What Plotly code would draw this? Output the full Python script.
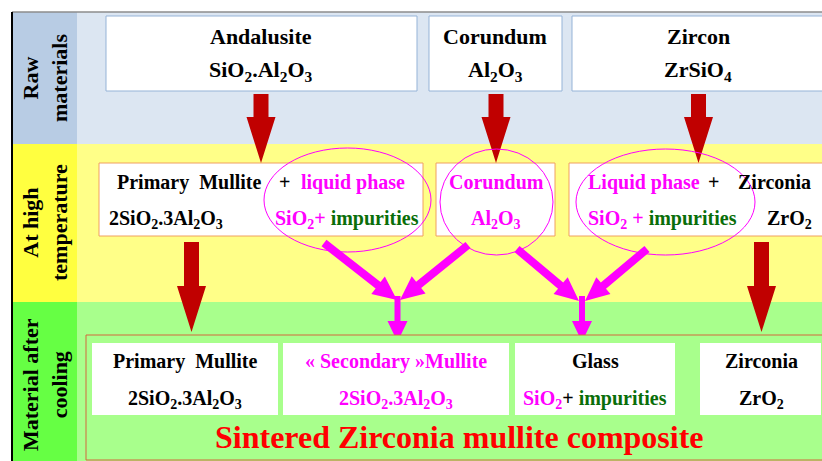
import math
import plotly.graph_objects as go

# ---------------- data (texts) ----------------
stage_labels = ["Raw<br>materials", "At high<br>temperature", "Material after<br>cooling"]
raw_names = ["Andalusite", "Corundum", "Zircon"]
raw_formulas = ["SiO<sub>2</sub>.Al<sub>2</sub>O<sub>3</sub>", "Al<sub>2</sub>O<sub>3</sub>", "ZrSiO<sub>4</sub>"]
cooled_names = ["Primary&nbsp;&nbsp;Mullite", "« Secondary »Mullite", "Glass", "Zirconia"]
cooled_formulas = [
    "2SiO<sub>2</sub>.3Al<sub>2</sub>O<sub>3</sub>",
    "2SiO<sub>2</sub>.3Al<sub>2</sub>O<sub>3</sub>",
    "<span style='color:#ff00ff'>SiO<sub>2</sub></span>+ <span style='color:#0a6e0a'>impurities</span>",
    "ZrO<sub>2</sub>",
]
cooled_colors = ["black", "#ff00ff", "black", "black"]
composite_title = "Sintered Zirconia mullite composite"

# ---------------- style / layout ----------------
W, H = 822, 461
FONT = "Liberation Serif"
MAG = "#ff00ff"
GRN = "#0a6e0a"
RED_ARROW = "#c00000"

shapes = []
annotations = []


def rect(x0, y0, x1, y1, fill, line=None, lw=1):
    shapes.append(dict(type="rect", xref="x", yref="y", x0=x0, y0=y0, x1=x1, y1=y1,
                       fillcolor=fill, line=dict(color=line or fill, width=lw if line else 0)))


def ellipse(x0, y0, x1, y1, color):
    shapes.append(dict(type="circle", xref="x", yref="y", x0=x0, y0=y0, x1=x1, y1=y1,
                       fillcolor="rgba(0,0,0,0)", line=dict(color=color, width=1)))


def arrow(x0, y0, x1, y1, sw, hw, hl, color):
    dx, dy = x1 - x0, y1 - y0
    L = math.hypot(dx, dy)
    ux, uy = dx / L, dy / L
    px, py = -uy, ux
    bx, by = x1 - ux * hl, y1 - uy * hl
    pts = [
        (x0 + px * sw / 2, y0 + py * sw / 2),
        (bx + px * sw / 2, by + py * sw / 2),
        (bx + px * hw / 2, by + py * hw / 2),
        (x1, y1),
        (bx - px * hw / 2, by - py * hw / 2),
        (bx - px * sw / 2, by - py * sw / 2),
        (x0 - px * sw / 2, y0 - py * sw / 2),
    ]
    path = "M " + " L ".join(f"{x:.2f},{y:.2f}" for x, y in pts) + " Z"
    shapes.append(dict(type="path", xref="x", yref="y", path=path,
                       fillcolor=color, line=dict(color=color, width=0)))


def text(x, y, s, size=20, color="black", xanchor="center", angle=0):
    annotations.append(dict(x=x, y=y, xref="x", yref="y", text=f"<b>{s}</b>", showarrow=False,
                            xanchor=xanchor, yanchor="middle", textangle=angle,
                            font=dict(family=FONT, size=size, color=color)))


# bands
rows = [(12, 144, "#b8cce4", "#dce6f2"), (144, 302, "#ffff40", "#ffff88"), (302, 461, "#66ff44", "#a8ff8c")]
for (ya, yb, lab, main) in rows:
    rect(12, ya, 77, yb, lab)
    rect(77, ya, W + 5, yb, main)
shapes.append(dict(type="line", xref="x", yref="y", x0=12, y0=12, x1=W, y1=12,
                   line=dict(color="#8c8c8c", width=1.5)))
shapes.append(dict(type="line", xref="x", yref="y", x0=12, y0=12, x1=12, y1=H,
                   line=dict(color="black", width=2)))

# stage labels
label_y = [78, 223, 385]
for s, yy in zip(stage_labels, label_y):
    text(45, yy, s, size=22, angle=-90)

# raw material boxes
raw_boxes = [(106, 417), (429, 562), (572, 830)]
raw_cx = [261, 495, 698]
for (xa, xb), cx, n, f in zip(raw_boxes, raw_cx, raw_names, raw_formulas):
    rect(xa, 16, xb, 91, "white", "#95b3d7", 1)
    text(cx, 36, n, size=22)
    text(cx, 71, f, size=22)

# high temperature boxes
hot_boxes = [(99, 423), (436, 555), (569, 830)]
for xa, xb in hot_boxes:
    rect(xa, 163, xb, 236, "white", "#f0a060", 1)

# red arrows row1 -> row2
for cx in [261, 496, 698.5]:
    arrow(cx, 94, cx, 163, 15, 29, 46, RED_ARROW)

# row 2 texts
text(115, 182, "Primary&nbsp;&nbsp;Mullite", xanchor="left")
text(277, 182, "+", xanchor="left")
text(299, 182, "liquid phase", color=MAG, xanchor="left")
text(107, 219, "2SiO<sub>2</sub>.3Al<sub>2</sub>O<sub>3</sub>", xanchor="left")
text(273, 219, f"<span style='color:{MAG}'>SiO<sub>2</sub>+</span> <span style='color:{GRN}'>impurities</span>",
     xanchor="left")
text(496, 182, "Corundum", color=MAG)
text(496, 219, "Al<sub>2</sub>O<sub>3</sub>", color=MAG)
text(586, 182, "Liquid phase", color=MAG, xanchor="left")
text(713, 182, "+")
text(736, 182, "Zirconia", xanchor="left")
text(586, 219, f"<span style='color:{MAG}'>SiO<sub>2</sub> +</span> <span style='color:{GRN}'>impurities</span>",
     xanchor="left")
text(765, 219, "ZrO<sub>2</sub>", xanchor="left")

# ellipses
ellipse(264, 148, 431, 252, MAG)
ellipse(440, 149, 553, 255, MAG)
ellipse(576, 149, 755, 255, MAG)

# red arrows row2 -> row3
for cx in [191.5, 761.5]:
    arrow(cx, 242, cx, 332, 15, 29, 46, RED_ARROW)

# magenta arrows
arrow(324, 243, 397, 300, 8, 22, 24, MAG)
arrow(468, 245, 400, 300, 8, 22, 24, MAG)
arrow(517, 249, 579, 301, 8, 22, 24, MAG)
arrow(647, 249, 585, 301, 8, 22, 24, MAG)
arrow(397.5, 296, 397.5, 342, 6, 20, 21, MAG)
arrow(582, 296, 582, 342, 6, 20, 21, MAG)

# composite frame
rect(86, 335, 830, 460, "#a8ff8c", "#d2693c", 1)
cool_boxes = [(92, 278), (283, 509), (515, 675), (700, 821)]
cool_cx = [185, 396, 595, 761]
for (xa, xb), cx, n, f, c in zip(cool_boxes, cool_cx, cooled_names, cooled_formulas, cooled_colors):
    rect(xa, 343, xb, 415, "white")
    text(cx, 361, n, color=c)
    text(cx, 399, f, color=c)

text(459, 437, composite_title, size=32, color="#ff0000")

fig = go.Figure(go.Scatter(x=[0], y=[0], mode="markers", marker=dict(opacity=0), hoverinfo="skip"))
fig.update_layout(
    width=W, height=H, margin=dict(l=0, r=0, t=0, b=0),
    paper_bgcolor="white", plot_bgcolor="white", showlegend=False,
    xaxis=dict(range=[0, W], visible=False, fixedrange=True),
    yaxis=dict(range=[H, 0], visible=False, fixedrange=True),
    shapes=shapes, annotations=annotations,
)
fig.write_html("out.html", config={"displayModeBar": False},
               post_script="document.body.style.margin='0';document.body.style.padding='0';"
                           "document.body.style.overflow='hidden';")
